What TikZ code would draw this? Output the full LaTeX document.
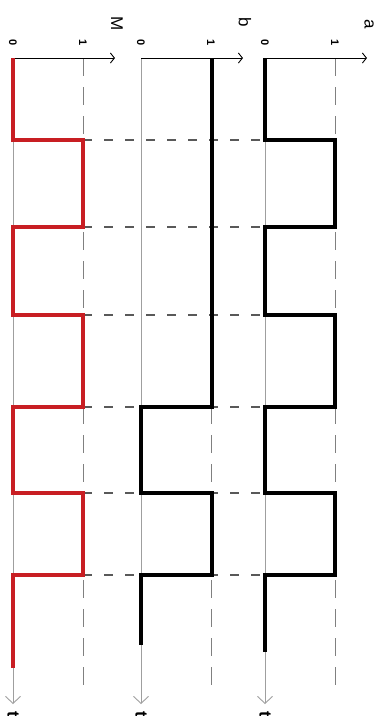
\documentclass[tikz,border=0pt]{standalone}
\usepackage{fontspec}
\setmainfont{Liberation Sans}
\usetikzlibrary{arrows.meta,positioning}
\definecolor{sigred}{RGB}{200,30,35}
\tikzset{
  lbl/.style={font=\fontsize{17}{17}\selectfont, rotate=-90, inner sep=1pt},
  tick/.style={font=\fontsize{11}{11}\selectfont\bfseries, rotate=-90, inner sep=1pt},
  taxis/.style={gray!75, line width=0.9pt, -{Straight Barb[length=7pt,width=15pt]}},
  vaxis/.style={black, line width=0.9pt, -{Straight Barb[length=4pt,width=10pt]}},
  sig/.style={line width=3.4pt, line join=miter},
  guide/.style={black!65, line width=2pt, dash pattern=on 9pt off 12pt},
  level/.style={gray, line width=1pt, dash pattern=on 18pt off 11pt}
}

\begin{document}
\begin{tikzpicture}[x=1pt,y=-1pt]
\useasboundingbox (0,0) rectangle (383,716);

% guides at every edge
\foreach \t in {140,227,315,407,493,575}
  \draw[guide] (20,\t) -- (330,\t);

% one channel per column
\foreach \xo/\nm/\ly in {13/M/24,141/b/22,265/a/24}{
  \coordinate (o\nm) at (\xo,58);
  \coordinate (h\nm) at (\xo+102,58);
  \coordinate (e\nm) at (\xo,704);
  \draw[level] (\xo+70,58) -- (\xo+70,685);
  \draw[taxis] (o\nm) -- (e\nm);
  \draw[vaxis] (o\nm) -- (h\nm);
  \node[tick] (z\nm) at (\xo,43) {0};
  \node[tick] (u\nm) at (\xo+70,43) {1};
  \node[lbl] (n\nm) at (\xo+104,\ly) {\nm};
  \node[lbl, font=\fontsize{17}{17}\selectfont\bfseries, anchor=west] (t\nm) at (\xo,710) {t};
}

% signals
\draw[sig, sigred] (oM) -- (13,140) -- (83,140) -- (83,227) -- (13,227) -- (13,315)
  -- (83,315) -- (83,407) -- (13,407) -- (13,493) -- (83,493) -- (83,575)
  -- (13,575) -- (13,668);
\draw[sig] (212,58) -- (212,407) -- (141,407) -- (141,493) -- (212,493)
  -- (212,575) -- (141,575) -- (141,645);
\draw[sig] (oa) -- (265,140) -- (335,140) -- (335,227) -- (265,227) -- (265,315)
  -- (335,315) -- (335,407) -- (265,407) -- (265,493) -- (335,493) -- (335,575)
  -- (265,575) -- (265,652);
\end{tikzpicture}
\end{document}
